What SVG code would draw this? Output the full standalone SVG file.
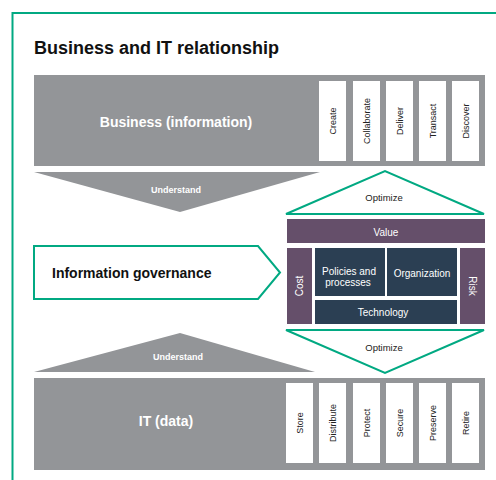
<svg xmlns="http://www.w3.org/2000/svg" width="496" height="480" viewBox="0 0 496 480">
<style>
text{font-family:"Liberation Sans",Arial,sans-serif}
.bar{fill:#939598}
.box{fill:#fff}
.vl{font-size:9px;fill:#222;text-anchor:middle;dominant-baseline:central}
.opt{fill:#fff;stroke:#01a982;stroke-width:2}
.pur{fill:#654f6a}
.nav{fill:#2b3f53}
.wt{fill:#fff;font-size:10px;text-anchor:middle;dominant-baseline:central}
.und{fill:#fff;font-size:9px;font-weight:bold;text-anchor:middle}
.big{fill:#fff;font-size:14px;font-weight:bold;text-anchor:middle}
</style>
<rect width="496" height="480" fill="#fff"/>
<path d="M12.5 480 V13 H496" fill="none" stroke="#01a982" stroke-width="2"/>
<text x="34" y="54" font-size="18" font-weight="bold" fill="#111">Business and IT relationship</text>

<g id="business">
<rect class="bar" x="34" y="75" width="451" height="91"/>
<text class="big" x="176" y="127">Business (information)</text>
<rect class="box" x="319" y="81" width="27" height="80"/>
<rect class="box" x="353" y="81" width="27" height="80"/>
<rect class="box" x="386" y="81" width="27" height="80"/>
<rect class="box" x="419" y="81" width="27" height="80"/>
<rect class="box" x="452" y="81" width="27" height="80"/>
<text class="vl" transform="translate(332.5 121) rotate(-90)">Create</text>
<text class="vl" transform="translate(366.5 121) rotate(-90)">Collaborate</text>
<text class="vl" transform="translate(399.5 121) rotate(-90)">Deliver</text>
<text class="vl" transform="translate(432.5 121) rotate(-90)">Transact</text>
<text class="vl" transform="translate(465.5 121) rotate(-90)">Discover</text>
</g>

<g id="understand-top">
<polygon class="bar" points="34,172 320,172 180,212"/>
<text class="und" x="176" y="193">Understand</text>
</g>

<g id="optimize-top">
<polygon class="opt" points="286,214 385,171 484,214"/>
<text x="384" y="201" font-size="9.5" fill="#222" text-anchor="middle">Optimize</text>
</g>

<g id="info-governance">
<polygon points="34,246 258,246 280,272.5 258,299 34,299" fill="#fff" stroke="#01a982" stroke-width="2"/>
<text x="52" y="278" font-size="14" font-weight="bold" fill="#111">Information governance</text>
</g>

<g id="governance-block">
<rect class="pur" x="287" y="219" width="198" height="24"/>
<text class="wt" x="386" y="232">Value</text>
<rect class="pur" x="287" y="248" width="25" height="76"/>
<text class="wt" transform="translate(299.5 286) rotate(-90)">Cost</text>
<rect class="nav" x="315" y="248" width="70" height="48"/>
<text class="wt" x="349" y="271">Policies and</text>
<text class="wt" x="348" y="282">processes</text>
<rect class="nav" x="387" y="248" width="70" height="48"/>
<text class="wt" x="422" y="273">Organization</text>
<rect class="nav" x="315" y="300" width="142" height="24"/>
<text class="wt" x="383" y="312">Technology</text>
<rect class="pur" x="460" y="248" width="25" height="76"/>
<text class="wt" transform="translate(472.5 286) rotate(90)">Risk</text>
</g>

<g id="optimize-bottom">
<polygon class="opt" points="286,330 484,330 385,373"/>
<text x="384" y="351" font-size="9.5" fill="#222" text-anchor="middle">Optimize</text>
</g>

<g id="understand-bottom">
<polygon class="bar" points="34,372 315,372 180,333"/>
<text class="und" x="178" y="360">Understand</text>
</g>

<g id="it">
<rect class="bar" x="34" y="378" width="451" height="92"/>
<text class="big" x="166" y="426">IT (data)</text>
<rect class="box" x="286" y="383" width="27" height="80"/>
<rect class="box" x="319" y="383" width="27" height="80"/>
<rect class="box" x="353" y="383" width="27" height="80"/>
<rect class="box" x="386" y="383" width="27" height="80"/>
<rect class="box" x="419" y="383" width="27" height="80"/>
<rect class="box" x="452" y="383" width="27" height="80"/>
<text class="vl" transform="translate(299.5 423) rotate(-90)">Store</text>
<text class="vl" transform="translate(332.5 423) rotate(-90)">Distribute</text>
<text class="vl" transform="translate(366.5 423) rotate(-90)">Protect</text>
<text class="vl" transform="translate(399.5 423) rotate(-90)">Secure</text>
<text class="vl" transform="translate(432.5 423) rotate(-90)">Preserve</text>
<text class="vl" transform="translate(465.5 423) rotate(-90)">Retire</text>
</g>
<g id="connectors"/>
</svg>
